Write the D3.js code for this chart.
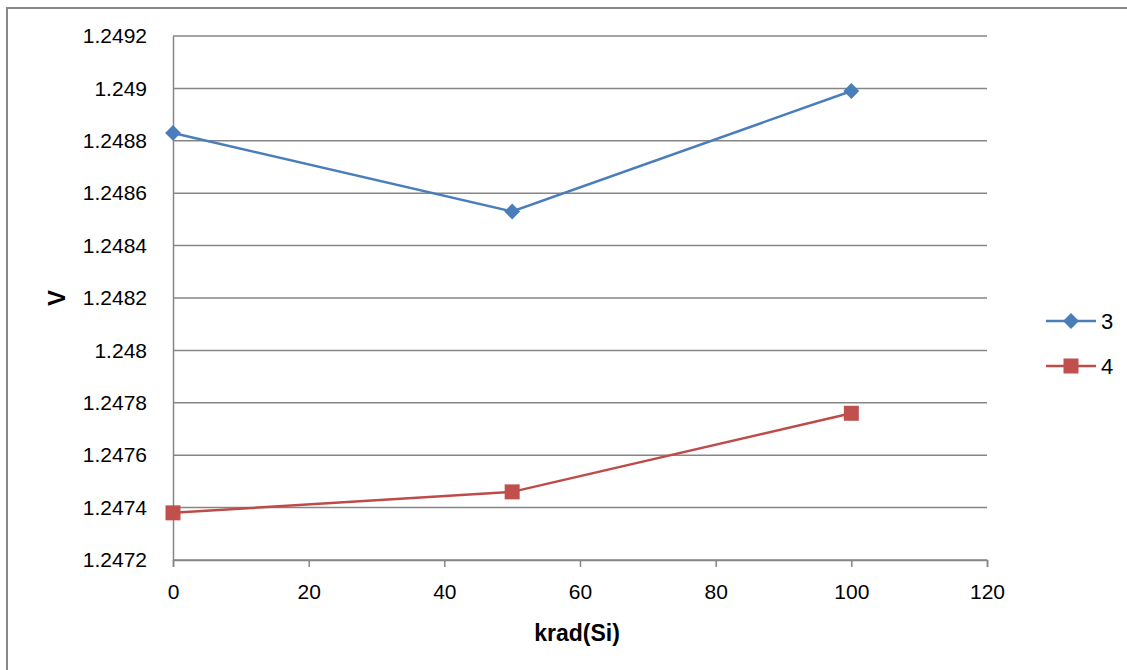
<!DOCTYPE html>
<html><head><meta charset="utf-8">
<script src="https://cdn.jsdelivr.net/npm/d3@7"></script>
<style>body{margin:0;background:#fff}svg{display:block}text{font-family:"Liberation Sans",Arial,sans-serif}</style>
</head><body>
<script>
const xValues = [0, 50, 100];
const series3 = [1.24883, 1.24853, 1.24899];
const series4 = [1.24738, 1.24746, 1.24776];
const seriesNames = ["3", "4"];
const xTicks = [0, 20, 40, 60, 80, 100, 120];
const yTicks = [1.2472, 1.2474, 1.2476, 1.2478, 1.248, 1.2482, 1.2484, 1.2486, 1.2488, 1.249, 1.2492];
const xTitle = "krad(Si)";
const yTitle = "V";

const W = 1127, H = 670;
const svg = d3.select("body").append("svg").attr("width", W).attr("height", H);
svg.append("rect").attr("x", 7).attr("y", 8).attr("width", 1130).attr("height", 680)
  .attr("fill", "#fff").attr("stroke", "#898989").attr("stroke-width", 2);

const x = d3.scaleLinear().domain([0, 120]).range([173, 987]);
const y = d3.scaleLinear().domain([1.2472, 1.2492]).range([560, 36]);

// gridlines
svg.append("g").selectAll("line").data(yTicks).join("line")
  .attr("x1", 173).attr("x2", 987)
  .attr("y1", d => y(d)).attr("y2", d => y(d))
  .attr("stroke", "#868686").attr("stroke-width", 1.5);

const fmt = d => String(+d.toFixed(4));
const yAxis = svg.append("g").attr("transform", "translate(173,0)")
  .call(d3.axisLeft(y).tickValues(yTicks).tickFormat(fmt).tickSize(0).tickPadding(26));
const xAxis = svg.append("g").attr("transform", "translate(0,560)")
  .call(d3.axisBottom(x).tickValues(xTicks).tickSize(7).tickPadding(17));
[yAxis, xAxis].forEach(g => {
  g.select(".domain").attr("stroke", "#868686").attr("stroke-width", 1.5);
  g.selectAll(".tick line").attr("stroke", "#868686").attr("stroke-width", 1.5);
  g.selectAll("text").attr("font-size", 21).attr("fill", "#000")
    .style("font-family", '"Liberation Sans",Arial,sans-serif');
});

svg.append("text").attr("x", 577).attr("y", 641).attr("text-anchor", "middle")
  .attr("font-size", 23).attr("font-weight", "bold").text(xTitle);
svg.append("text").attr("transform", "translate(65,298) rotate(-90)").attr("text-anchor", "middle")
  .attr("font-size", 24).attr("font-weight", "bold").text(yTitle);

const colors = ["#4A7EBB", "#BE4B48"];
const fills = ["#4A7EBB", "#C0504D"];
const all = [series3, series4];
const line = d3.line().x((d, i) => x(xValues[i])).y(d => y(d));
const diamond = d3.symbol().type(d3.symbolDiamond2).size(160);
const square = d3.symbol().type(d3.symbolSquare).size(225);

all.forEach((s, k) => {
  svg.append("path").attr("d", line(s)).attr("fill", "none")
    .attr("stroke", colors[k]).attr("stroke-width", 2.5);
  svg.append("g").selectAll("path").data(s).join("path")
    .attr("transform", (d, i) => `translate(${x(xValues[i])},${y(d)})`)
    .attr("d", k === 0 ? diamond() : square())
    .attr("fill", fills[k]);
});

// legend
const ly = [321, 366];
seriesNames.forEach((n, k) => {
  svg.append("line").attr("x1", 1046).attr("x2", 1096).attr("y1", ly[k]).attr("y2", ly[k])
    .attr("stroke", colors[k]).attr("stroke-width", 2.5);
  svg.append("path").attr("transform", `translate(1071,${ly[k]})`)
    .attr("d", k === 0 ? diamond() : square()).attr("fill", fills[k]);
  svg.append("text").attr("x", 1101).attr("y", ly[k] + 8).attr("font-size", 22).text(n);
});
</script>
</body></html>
